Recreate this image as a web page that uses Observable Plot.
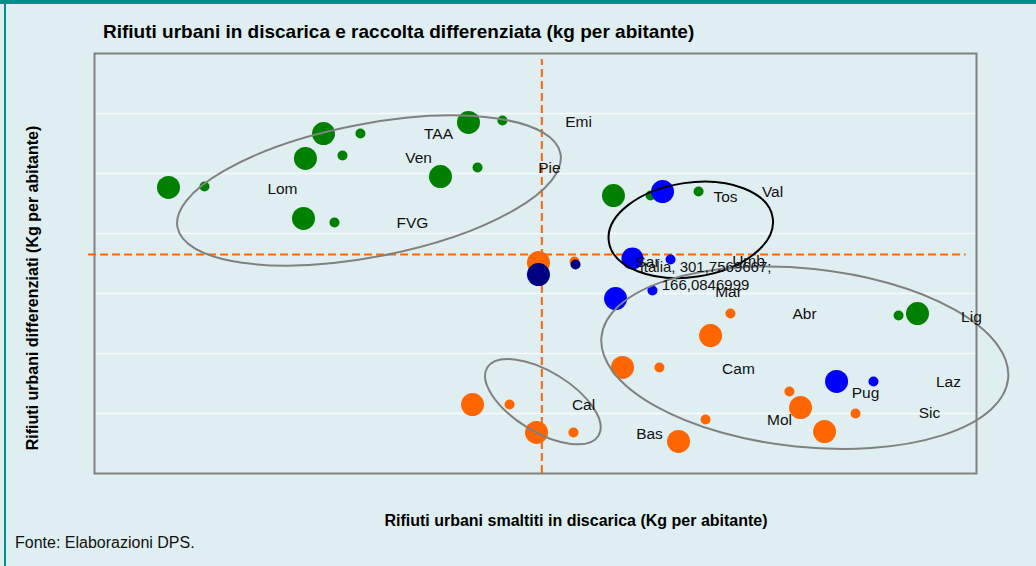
<!DOCTYPE html>
<html>
<head>
<meta charset="utf-8">
<script src="https://cdn.jsdelivr.net/npm/d3@7"></script>
<script src="https://cdn.jsdelivr.net/npm/@observablehq/plot@0.6"></script>
<style>
  html, body { margin: 0; padding: 0; background: #DFEFF1; }
  #page { position: relative; width: 1036px; height: 566px; overflow: hidden; background: #DFEFF1;
          font-family: "Liberation Sans", Arial, sans-serif; }
  #topbar { position: absolute; left: 0; top: 0; width: 1036px; height: 4px; background: #008E8E; }
  #leftbar { position: absolute; left: 4px; top: 0; width: 2px; height: 566px; background: #008E8E; }
  #chart { position: absolute; left: 0; top: 0; }
  .t { position: absolute; white-space: nowrap; color: #000; line-height: 1; }
  #title { left: 103px; top: 22px; font-size: 19px; font-weight: bold; }
  #xlab { left: 0; width: 1152px; text-align: center; top: 513px; font-size: 16px; font-weight: bold; }
  #ylab { left: 33px; top: 288px; font-size: 16px; font-weight: bold; transform: translate(-50%, -50%) rotate(-90deg); }
  #fonte { left: 15px; top: 535px; font-size: 16px; color: #111; }
</style>
</head>
<body>
<div id="page">
  <div id="chart"></div>
  <div id="topbar"></div>
  <div id="leftbar"></div>
  <div class="t" id="title">Rifiuti urbani in discarica e raccolta differenziata (kg per abitante)</div>
  <div class="t" id="xlab">Rifiuti urbani smaltiti in discarica (Kg per abitante)</div>
  <div class="t" id="ylab">Rifiuti urbani differenziati (Kg per abitante)</div>
  <div class="t" id="fonte">Fonte: Elaborazioni DPS.</div>
</div>
<script>
// ---- Data (kg per abitante) ----
// series: green (Centro-Nord), orange (Mezzogiorno), blue, navy
const verdeX = [49.9, 74.2, 154.5, 179.4, 142.3, 167.3, 141.0, 161.9, 233.4, 258.4, 252.3, 275.2, 350.1, 375.1, 407.5, 555.2, 542.4];
const verdeY = [216.9, 217.6, 257.8, 257.8, 238.9, 241.1, 193.4, 190.3, 225.2, 232.0, 266.2, 267.7, 210.8, 210.8, 213.8, 121.3, 119.8];
const verdeP = [1, 0.19, 1, 0.19, 1, 0.19, 1, 0.19, 1, 0.19, 1, 0.19, 1, 0.19, 0.19, 1, 0.19];

const arancioX = [299.5, 323.8, 255.0, 280.0, 298.2, 323.1, 356.2, 381.1, 415.6, 429.0, 394.0, 412.2, 476.3, 468.8, 492.5, 513.4];
const arancioY = [160.0, 160.8, 52.3, 52.3, 31.1, 31.1, 80.4, 80.4, 104.6, 121.3, 24.3, 40.9, 50.0, 62.2, 31.8, 45.5];
const arancioP = [1, 0.19, 1, 0.19, 1, 0.19, 1, 0.19, 1, 0.19, 1, 0.19, 1, 0.19, 1, 0.19];

const bluX = [383.2, 362.9, 388.6, 351.5, 376.4, 500.6, 525.5];
const bluY = [213.8, 163.0, 162.3, 132.7, 138.8, 69.8, 69.8];
const bluP = [1, 0.92, 0.19, 1, 0.19, 1, 0.19];

const navyX = [299.5, 324.5];
const navyY = [150.9, 158.5];
const navyP = [1, 0.19];

// region labels
const regioni = ["TAA", "Ven", "Lom", "FVG", "Emi", "Pie", "Tos", "Val", "Sar", "Umb", "Mar", "Abr", "Lig", "Cam", "Laz", "Pug", "Sic", "Mol", "Bas", "Cal"];
const regioniX = [232.1, 218.6, 126.8, 214.5, 326.5, 306.9, 425.7, 457.4, 373.1, 441.2, 427.7, 479.0, 591.6, 434.4, 576.1, 520.1, 563.3, 462.1, 374.4, 329.9];
const regioniY = [257.8, 239.6, 216.1, 189.6, 266.2, 231.3, 209.3, 213.1, 160.0, 161.5, 137.3, 121.3, 118.3, 79.6, 69.0, 61.4, 45.5, 40.9, 30.3, 52.3];

// Italia average
const italiaX = 301.7569667;
const italiaY = 166.0846999;
const italiaTesto = "Italia, 301,7569667;\n166,0846999";
const italiaTestoX = [412.2];
const italiaTestoY = [150.4];
const italiaRigaX = [-4, 588];   // extent of horizontal dashed line
const italiaRigaY = [0, 314];    // extent of vertical dashed line

// grid values
const yMax = 318.5;
const xMax = 595;
const yGrid = [45.5, 91, 136.5, 182, 227.5, 273];

// group ellipses (centres in data units)
const gruppiX = [185.5, 402.6, 479.5, 302.8];
const gruppiY = [214.2, 184.4, 87.4, 54.1];
// ellipse shapes (pixels / degrees) and stroke styles
const gruppiForma = [
  {rx: 195, ry: 66.5, rot: -10.9, stroke: "#808080"},
  {rx: 82.8, ry: 47.2, rot: -8.2, stroke: "#000000"},
  {rx: 204.4, ry: 89.2, rot: 5.9, stroke: "#808080"},
  {rx: 65.2, ry: 30.1, rot: 31.5, stroke: "#808080"}
];

const mk = (xs, ys, ps) => xs.map((x, i) => ({x, y: ys[i], p: ps[i]}));
const verde = mk(verdeX, verdeY, verdeP);
const arancio = mk(arancioX, arancioY, arancioP);
const blu = mk(bluX, bluY, bluP);
const navy = mk(navyX, navyY, navyP);
const etichette = regioni.map((r, i) => ({r, x: regioniX[i], y: regioniY[i]}));

function ellissi(index, scales) {
  const g = d3.create("svg:g");
  gruppiX.forEach((cx, i) => {
    const f = gruppiForma[i];
    g.append("ellipse")
      .attr("cx", 0).attr("cy", 0)
      .attr("rx", f.rx).attr("ry", f.ry)
      .attr("transform", `translate(${scales.x(cx)},${scales.y(gruppiY[i])}) rotate(${f.rot})`)
      .attr("fill", "none")
      .attr("stroke", f.stroke)
      .attr("stroke-width", 2);
  });
  return g.node();
}

const chart = Plot.plot({
  width: 1036,
  height: 566,
  marginLeft: 94,
  marginRight: 60,
  marginTop: 53,
  marginBottom: 93,
  style: {background: "transparent", fontFamily: "Liberation Sans, Arial, sans-serif"},
  x: {domain: [0, xMax], axis: null},
  y: {domain: [0, yMax], axis: null},
  r: {type: "sqrt", domain: [0, 1], range: [0, 11.5]},
  marks: [
    Plot.ruleY(yGrid, {stroke: "#F7FBFC", strokeWidth: 1.5}),
    Plot.frame({stroke: "#808080", strokeWidth: 2}),
    Plot.ruleY([italiaY], {x1: italiaRigaX[0], x2: italiaRigaX[1], stroke: "#FF6600", strokeWidth: 2, strokeDasharray: "8,4"}),
    Plot.ruleX([italiaX], {y1: italiaRigaY[0], y2: italiaRigaY[1], stroke: "#FF6600", strokeWidth: 2, strokeDasharray: "8,4"}),
    Plot.dot(verde, {x: "x", y: "y", r: "p", fill: "#008000", stroke: "none"}),
    Plot.dot(arancio, {x: "x", y: "y", r: "p", fill: "#FF6600", stroke: "none"}),
    Plot.dot(blu, {x: "x", y: "y", r: "p", fill: "#0000FF", stroke: "none"}),
    Plot.dot(navy, {x: "x", y: "y", r: "p", fill: "#000080", stroke: "none"}),
    ellissi,
    Plot.text(etichette, {x: "x", y: "y", text: "r", fill: "#111", fontSize: 15.5, textAnchor: "middle"}),
    Plot.text([italiaTesto], {x: () => italiaTestoX[0], y: () => italiaTestoY[0], text: d => d, fill: "#111", fontSize: 15, textAnchor: "middle", lineHeight: 1.2})
  ]
});
document.getElementById("chart").appendChild(chart);
</script>
</body>
</html>
